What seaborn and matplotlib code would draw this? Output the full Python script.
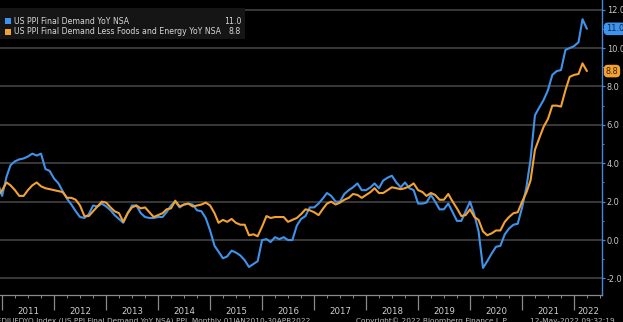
import matplotlib
matplotlib.use("Agg")
import numpy as np
import pandas as pd
import seaborn as sns
import matplotlib.pyplot as plt
import matplotlib.dates as mdates
import matplotlib.transforms as mtransforms
from matplotlib.patches import Rectangle

# ---------------- data (monthly, Dec 2010 .. Apr 2022) ----------------
start_month = "2010-12-01"
end_month = "2022-04-01"

ppi_fd = [3.0,
    2.3, 3.3, 3.9, 4.1, 4.2, 4.25, 4.35, 4.5, 4.4, 4.5, 3.7, 3.6,
    3.2, 2.95, 2.55, 2.15, 1.85, 1.5, 1.2, 1.15, 1.35, 1.8, 1.75, 1.9,
    1.75, 1.55, 1.3, 1.1, 0.9, 1.4, 1.8, 1.8, 1.4, 1.2, 1.15, 1.15,
    1.2, 1.2, 1.45, 1.8, 2.0, 1.7, 1.85, 1.9, 1.85, 1.55, 1.5, 1.15,
    0.5, -0.3, -0.6, -0.95, -0.85, -0.55, -0.65, -0.8, -1.05, -1.4, -1.25, -1.1,
    0.0, 0.05, -0.1, 0.15, 0.05, 0.15, 0.0, 0.0, 0.75, 1.1, 1.25, 1.7,
    1.7, 1.9, 2.15, 2.45, 2.3, 2.0, 2.0, 2.4, 2.6, 2.75, 2.95, 2.6,
    2.6, 2.75, 2.95, 2.7, 3.1, 3.25, 3.35, 3.0, 2.75, 3.0, 2.7, 2.6,
    1.9, 1.9, 1.95, 2.35, 2.0, 1.6, 1.6, 1.9, 1.45, 1.0, 1.0, 1.5,
    2.0, 1.3, 0.45, -1.45, -1.1, -0.7, -0.35, -0.3, 0.3, 0.6, 0.8, 0.85,
    1.7, 2.8, 4.2, 6.5, 6.9, 7.3, 7.8, 8.6, 8.8, 8.85, 9.9, 10.0,
    10.1, 10.3, 11.5, 11.0]

ppi_core = [2.3,
    2.6, 3.0, 2.85, 2.6, 2.3, 2.3, 2.6, 2.85, 3.0, 2.8, 2.7, 2.65,
    2.6, 2.55, 2.5, 2.2, 2.2, 2.1, 1.8, 1.25, 1.25, 1.5, 1.75, 2.0,
    1.95, 1.7, 1.5, 1.4, 0.95, 1.4, 1.7, 1.8, 1.65, 1.7, 1.45, 1.2,
    1.3, 1.4, 1.6, 1.65, 2.05, 1.75, 1.85, 1.9, 1.75, 1.8, 1.85, 1.95,
    1.8, 1.4, 0.9, 1.05, 0.95, 1.1, 0.9, 0.8, 0.8, 0.25, 0.3, 0.2,
    0.7, 1.25, 1.15, 1.2, 1.2, 1.2, 0.95, 1.05, 1.15, 1.35, 1.6, 1.55,
    1.45, 1.3, 1.6, 1.9, 2.0, 1.85, 1.95, 2.1, 2.2, 2.4, 2.35, 2.2,
    2.35, 2.5, 2.7, 2.45, 2.45, 2.6, 2.75, 2.7, 2.65, 2.7, 2.8, 2.95,
    2.6, 2.5, 2.3, 2.45, 2.35, 2.1, 2.1, 2.4, 2.0, 1.65, 1.25, 1.3,
    1.6, 1.2, 1.05, 0.45, 0.25, 0.35, 0.5, 0.5, 0.95, 1.2, 1.4, 1.45,
    2.0, 2.5, 3.1, 4.7, 5.3, 5.9, 6.3, 7.0, 7.0, 6.95, 7.8, 8.5,
    8.6, 8.65, 9.2, 8.8]

series_names = ["US PPI Final Demand YoY NSA",
                "US PPI Final Demand Less Foods and Energy YoY NSA"]
last_labels = ["11.0", "8.8"]
year_labels = [str(y) for y in range(2011, 2023)]
y_ticks = [-2, 0, 2, 4, 6, 8, 10, 12]

BLUE = "#3f93ec"
ORANGE = "#f3a131"
colors = [BLUE, ORANGE]

dates = pd.date_range(start_month, end_month, freq="MS")
df = pd.DataFrame({
    "date": np.concatenate([dates, dates]),
    "value": ppi_fd + ppi_core,
    "series": [series_names[0]] * len(dates) + [series_names[1]] * len(dates),
})

# ---------------- figure ----------------
sns.set_theme(style="dark")
plt.rcParams["font.family"] = ["DejaVu Sans"]

W, H = 623, 322
fig = plt.figure(figsize=(W / 100, H / 100), dpi=100, facecolor="black")
ax_bottom_px = 295
ax_right_px = 602
ax = fig.add_axes([0, 1 - ax_bottom_px / H, ax_right_px / W, ax_bottom_px / H])
ax.set_facecolor("black")

sns.lineplot(data=df, x="date", y="value", hue="series", palette=colors,
             linewidth=1.5, legend=False, ax=ax, zorder=3)

ax.set_xlim(pd.Timestamp("2010-12-17"), pd.Timestamp("2022-07-16"))
ax.set_ylim(-2.86, 12.5)
ax.set_xlabel("")
ax.set_ylabel("")

# horizontal grid
ax.set_yticks(y_ticks)
ax.set_yticklabels([f"{v:.1f}" for v in y_ticks])
ax.yaxis.grid(True, color="#3d3d3d", linewidth=1.3)
ax.xaxis.grid(False)
ax.yaxis.tick_right()
ax.yaxis.set_minor_locator(matplotlib.ticker.MultipleLocator(1))
ax.tick_params(axis="y", which="major", colors="#4a86d8", length=2.5, width=0.9,
               pad=0.8, labelsize=5.9, labelcolor="#c9c9c9", right=True, left=False)
ax.tick_params(axis="y", which="minor", colors="#4a86d8", length=1.5, width=0.7,
               right=True, left=False)

# x axis: year separators (major) and quarterly small ticks (minor)
ax.xaxis.set_major_locator(mdates.YearLocator())
ax.xaxis.set_major_formatter(matplotlib.ticker.NullFormatter())
ax.xaxis.set_minor_locator(mdates.MonthLocator(bymonth=[4, 7, 10]))
ax.tick_params(axis="x", which="major", colors="#8a8a8a", length=11, width=0.9,
               direction="out", bottom=True)
ax.tick_params(axis="x", which="minor", colors="#8a8a8a", length=2.5, width=0.7,
               direction="out", bottom=True)

for s in ["top", "left"]:
    ax.spines[s].set_visible(False)
ax.spines["bottom"].set_color("#8a8a8a")
ax.spines["bottom"].set_linewidth(0.9)
ax.spines["right"].set_color("#4a86d8")
ax.spines["right"].set_linewidth(1.0)

# year labels centered in each year span
xtrans = ax.get_xaxis_transform()
for lab in year_labels:
    y = int(lab)
    pos = pd.Timestamp(f"{y}-07-01") if y < 2022 else pd.Timestamp("2022-04-10")
    ax.text(pos, -0.055, lab, transform=xtrans, ha="center", va="center",
            color="#cfcfcf", fontsize=6.2, clip_on=False)

# right-edge value tags
btrans = mtransforms.blended_transform_factory(ax.transAxes, ax.transData)
ax.text(1.006, ppi_fd[-1], last_labels[0], transform=btrans, ha="left", va="center",
        fontsize=5.9, color="#0d2746", clip_on=False, zorder=5,
        bbox=dict(boxstyle="round,pad=0.22,rounding_size=0.5", fc=BLUE, ec="none"))
ax.text(1.006, ppi_core[-1], last_labels[1], transform=btrans, ha="left", va="center",
        fontsize=5.9, color="#3a2200", clip_on=False, zorder=5,
        bbox=dict(boxstyle="round,pad=0.22,rounding_size=0.5", fc=ORANGE, ec="none"))

# legend box (top-left)
def px(x, y):
    return x / W, 1 - y / H

lx, ly = px(0, 39)
fig.patches.append(Rectangle((lx, ly), 245 / W, 31 / H, transform=fig.transFigure,
                             facecolor="#151515", edgecolor="none", zorder=10))
rows = [(21, series_names[0], last_labels[0], BLUE),
        (32, series_names[1], last_labels[1], ORANGE)]
for yy, name, val, c in rows:
    sx, sy = px(5, yy + 3)
    fig.patches.append(Rectangle((sx, sy), 6 / W, 6 / H, transform=fig.transFigure,
                                 facecolor=c, edgecolor="none", zorder=11))
    tx, ty = px(14, yy)
    fig.text(tx, ty, name, color="#d8d8d8", fontsize=5.6, va="center", ha="left", zorder=12)
    vx, vy = px(241, yy)
    fig.text(vx, vy, val, color="#d8d8d8", fontsize=5.6, va="center", ha="right", zorder=12)

# footer (partly cut off at the bottom edge)
fx, fy = px(-3, 321)
fig.text(fx, fy, "FDIUFDYO Index (US PPI Final Demand YoY NSA) PPI  Monthly 01JAN2010-30APR2022",
         color="#bdbdbd", fontsize=5.3, va="center", ha="left")
fx, fy = px(356, 321)
fig.text(fx, fy, "Copyright\u00a9 2022 Bloomberg Finance L.P.",
         color="#bdbdbd", fontsize=5.3, va="center", ha="left")
fx, fy = px(530, 321)
fig.text(fx, fy, "12-May-2022 09:32:19",
         color="#bdbdbd", fontsize=5.3, va="center", ha="left")

fig.savefig("out.png", dpi=100, facecolor="black")
